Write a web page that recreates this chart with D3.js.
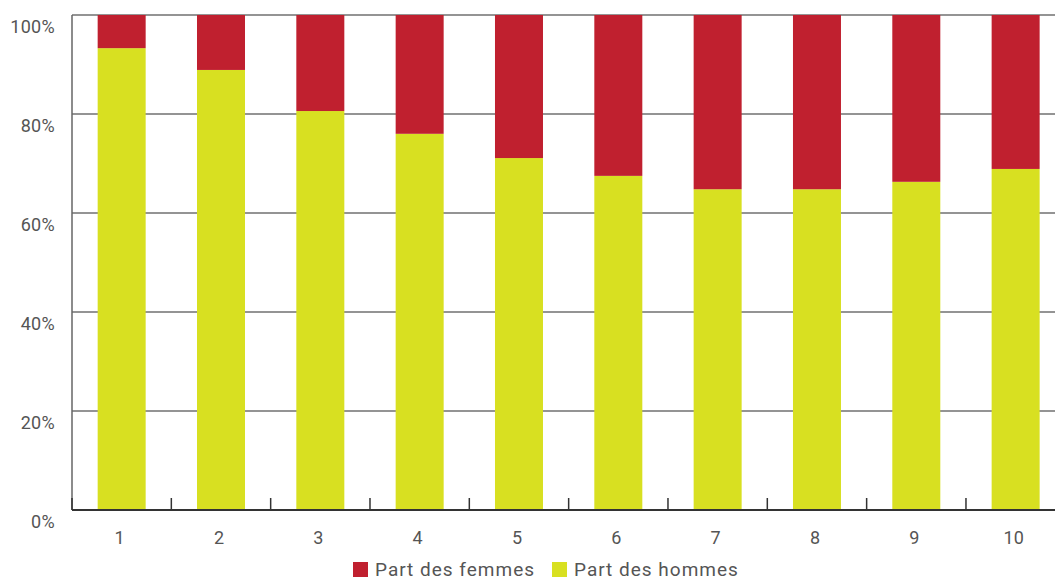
<!DOCTYPE html>
<html><head><meta charset="utf-8">
<script src="https://cdn.jsdelivr.net/npm/d3@7"></script>
<style>body{margin:0;background:#fff}svg{display:block}text{font-family:Roboto,"Liberation Sans",sans-serif}</style>
</head><body><svg id="c" width="1055" height="581"></svg>
<script>
const categories = ["1","2","3","4","5","6","7","8","9","10"];
const hommes = [93.3, 88.9, 80.6, 76.0, 71.1, 67.5, 64.8, 64.8, 66.3, 68.9];
const femmes = hommes.map(v => 100 - v);
const yTicks = [0, 20, 40, 60, 80, 100];
const seriesNames = ["Part des femmes", "Part des hommes"];
const colors = ["#C0202F", "#D8E021"];

const svg = d3.select("#c");
const pLeft = 72, pTop = 15, pBottom = 510, pRight = 72 + 99.33 * 10;
const x = d3.scaleBand().domain(categories).range([pLeft, pRight]).padding(0);
const y = d3.scaleLinear().domain([0, 100]).range([pBottom, pTop]);
const barW = 48;

// gridlines
svg.append("g").selectAll("line").data(yTicks.filter(d => d > 0)).join("line")
  .attr("x1", pLeft).attr("x2", 1055).attr("y1", d => y(d)).attr("y2", d => y(d))
  .attr("stroke", "#707070").attr("stroke-width", 1.5);

// y labels
svg.append("g").selectAll("text").data(yTicks).join("text")
  .attr("x", 55).attr("y", d => y(d) + 18).attr("text-anchor", "end")
  .attr("font-size", 18).attr("letter-spacing", 0.3).attr("fill", "#555").text(d => d + "%");

// bars
const g = svg.append("g");
categories.forEach((c, i) => {
  const bx = x(c) + (x.bandwidth() - barW) / 2;
  g.append("rect").attr("x", bx).attr("width", barW)
    .attr("y", y(hommes[i])).attr("height", y(0) - y(hommes[i])).attr("fill", colors[1]);
  g.append("rect").attr("x", bx).attr("width", barW)
    .attr("y", y(100)).attr("height", y(0) - y(femmes[i])).attr("fill", colors[0]);
});

// left axis line
svg.append("line").attr("x1", pLeft).attr("x2", pLeft).attr("y1", pTop).attr("y2", pBottom)
  .attr("stroke", "#666").attr("stroke-width", 1.5);

// bottom axis
svg.append("line").attr("x1", pLeft).attr("x2", 1055).attr("y1", pBottom).attr("y2", pBottom)
  .attr("stroke", "#333").attr("stroke-width", 2);
const bounds = categories.map(c => x(c));
svg.append("g").selectAll("line").data(bounds).join("line")
  .attr("x1", d => d).attr("x2", d => d).attr("y1", pBottom).attr("y2", pBottom - 12)
  .attr("stroke", "#333").attr("stroke-width", 1.5);

svg.append("g").selectAll("text").data(categories).join("text")
  .attr("x", d => x(d) + x.bandwidth() / 2 - 2).attr("y", 544).attr("text-anchor", "middle")
  .attr("font-size", 18).attr("fill", "#555").text(d => d);

// legend
const leg = svg.append("g");
const legX = [353, 552];
seriesNames.forEach((n, i) => {
  leg.append("rect").attr("x", legX[i]).attr("y", 562).attr("width", 15).attr("height", 15).attr("fill", colors[i]);
  leg.append("text").attr("x", legX[i] + 22).attr("y", 576).attr("font-size", 19)
    .attr("letter-spacing", 1).attr("fill", "#555").text(n);
});
</script></body></html>
